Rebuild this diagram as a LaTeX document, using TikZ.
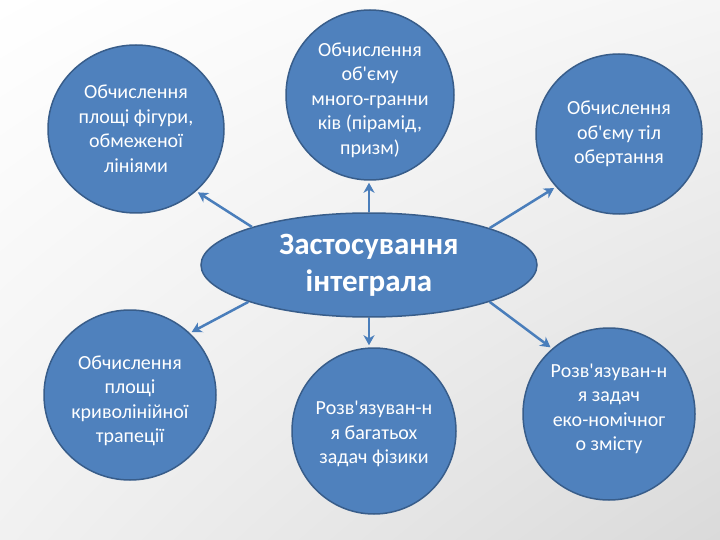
\documentclass[tikz,border=0pt]{standalone}
\usepackage{fontspec}
\setmainfont{Carlito}
\newfontfamily\cf{Carlito}
\usetikzlibrary{shapes.geometric,arrows.meta,shadings}
\definecolor{bfill}{HTML}{4F81BD}
\definecolor{bline}{HTML}{385D8A}
\definecolor{arr}{HTML}{4A7EBB}
\definecolor{bgA}{HTML}{F5F5F5}
\definecolor{bgB}{HTML}{F1F1F1}
\definecolor{bgC}{HTML}{DADADA}
\begin{document}
\begin{tikzpicture}[x=1pt,y=-1pt,
  bubble/.style={ellipse, draw=bline, line width=1.5pt, fill=bfill, inner sep=0pt},
  btext/.style={text=white, inner sep=0pt, align=center,
    font=\cf\fontsize{20}{24.5}\selectfont},
  hub/.style={ellipse, draw=bline, line width=1.5pt, fill=bfill, text=white,
    inner sep=0pt, align=center, font=\cf\bfseries\fontsize{31}{37}\selectfont},
  link/.style={draw=arr, line width=2.5pt,
    -{Stealth[length=10pt,width=11pt,inset=3pt]}, shorten >=2pt}]
\useasboundingbox (0,0) rectangle (720,540);
\shade[upper left=white, upper right=bgA, lower left=bgB, lower right=bgC]
  (0,0) rectangle (720,540);

\node[hub, minimum width=336pt, minimum height=104pt] (c) at (369,265)
  {Застосування\\інтеграла};

\node[bubble, minimum width=176pt, minimum height=168pt] (tl) at (136,129) {};
\node[bubble, minimum width=168pt, minimum height=170pt] (tc) at (370,95) {};
\node[bubble, minimum width=166pt, minimum height=160pt] (tr) at (619,134) {};
\node[bubble, minimum width=172pt, minimum height=170pt] (bl) at (130,395) {};
\node[bubble, minimum width=164pt, minimum height=166pt] (bc) at (374,431) {};
\node[bubble, minimum width=172pt, minimum height=172pt] (br) at (609,414) {};

\node[btext] (tlt) at (136,129) {Обчислення\\площі фігури,\\обмеженої\\лініями};
\node[btext] (tct) at (370,100) {Обчислення\\об'єму\\много-гранни\\ків (пірамід,\\призм)};
\node[btext] (trt) at (619,134) {Обчислення\\об'єму тіл\\обертання};
\node[btext] (blt) at (130,401) {Обчислення\\площі\\криволінійної\\трапеції};
\node[btext] (bct) at (374,434) {Розв'язуван-н\\я багатьох\\задач фізики};
\node[btext] (brt) at (609,409) {Розв'язуван-н\\я задач\\еко-номічног\\о змісту};

\draw[link] (c.162) -- (tl.-46);
\draw[link] (c.north) -- (c.north |- tc.south);
\draw[link] (c.17) -- (tr.220);
\draw[link] (c.197) -- (bl.46);
\draw[link] (c.south) -- (c.south |- bc.north);
\draw[link] (c.343) -- (br.131);
\end{tikzpicture}
\end{document}
